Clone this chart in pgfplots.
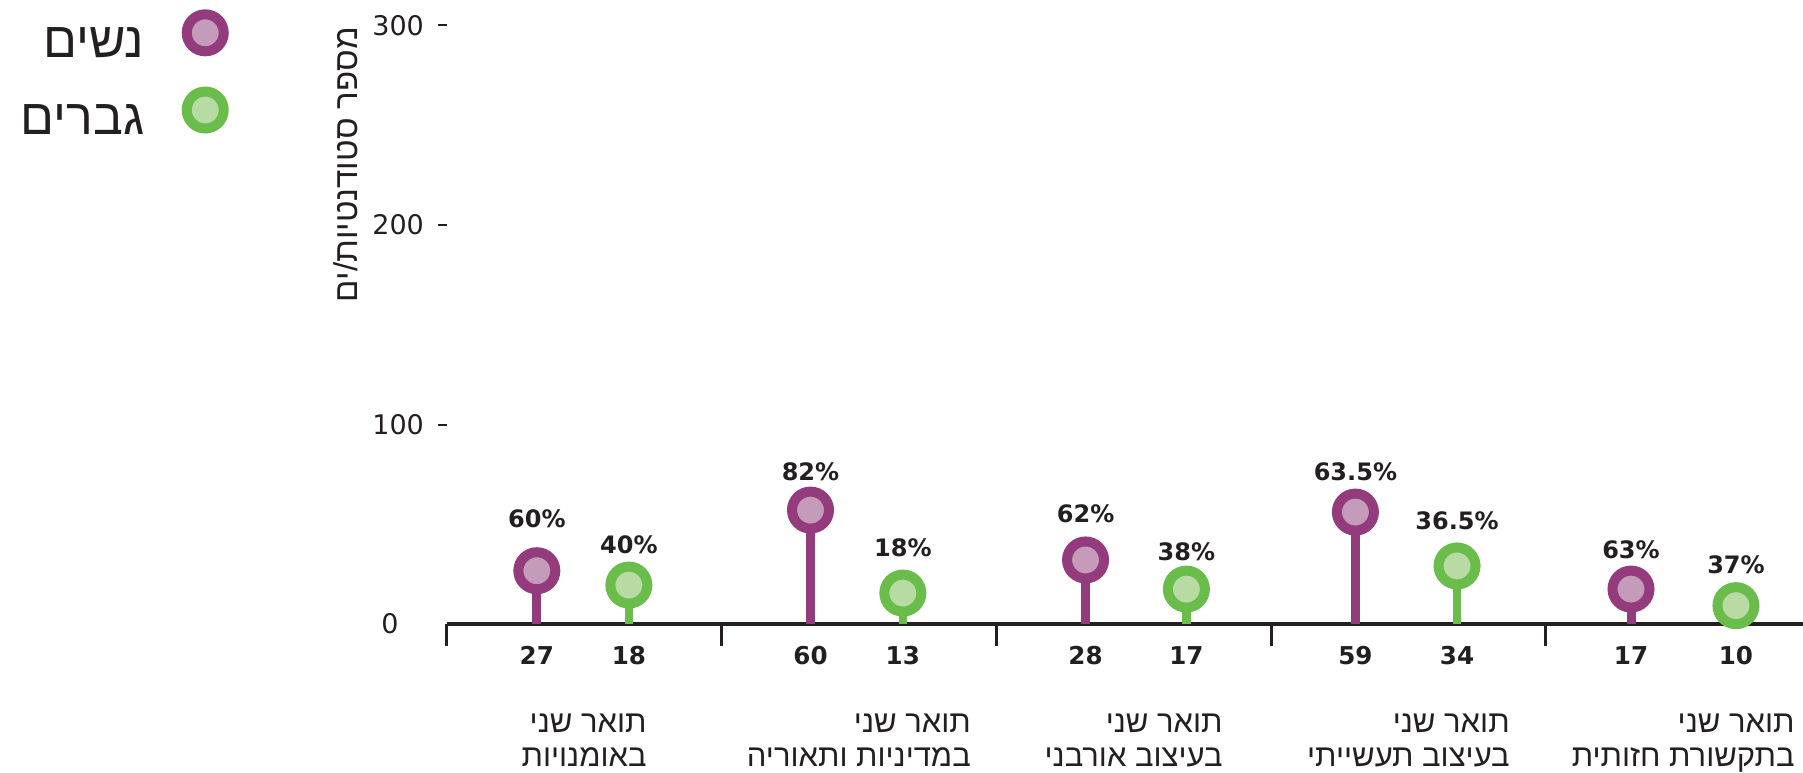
\documentclass[border=0pt]{standalone}
\usepackage{fontspec}
\usepackage{pgfplots}
\usepackage{pgfplotstable}
\pgfplotsset{compat=1.18}
\TeXXeTstate=1
\newfontfamily\hebfont[Script=Hebrew]{Liberation Sans}
\newfontfamily\numfont{DejaVu Sans}
\definecolor{purp}{HTML}{943B7D}
\definecolor{purpl}{HTML}{C49BB9}
\definecolor{grn}{HTML}{6ABD4A}
\definecolor{grnl}{HTML}{B8DBA4}
\definecolor{txt}{HTML}{231F20}

\pgfplotstableread{
x y lab dy
0.328 26.7 60 26.2
1.324 57.1 82 19.2
2.325 32.1 62 23.0
3.307 56.1 63.5 20.3
4.310 17.5 63 19.5
}\women
\pgfplotstableread{
x y lab dy
0.663 19.5 40 20.0
1.660 15.5 18 22.5
2.692 17.5 38 18.7
3.677 29.1 36.5 22.5
4.692 9.2 37 20.3
}\men

\begin{document}
\begin{tikzpicture}
\useasboundingbox (0,0) rectangle (901.5pt,386pt);
\begin{axis}[
  at={(223.35pt,74pt)}, anchor=south west,
  scale only axis, width=678.15pt, height=299.25pt,
  xmin=0, xmax=4.936, ymin=0, ymax=300,
  clip=false,
  axis lines*=left,
  x axis line style={line width=2pt, color=txt},
  y axis line style={draw=none},
  tick align=outside,
  major tick length=4.5pt,
  minor tick length=11pt,
  ytick={100,200,300},
  extra y ticks={0},
  extra y tick style={major tick length=0pt},
  ytick style={line width=1pt, color=txt},
  /pgf/number format/assume math mode=true,
  yticklabel style={font=\numfont\fontsize{13.5}{15}\selectfont, text=txt, anchor=west, inner sep=0pt, xshift=-32.85pt},
  xtick={0.328,0.663,1.324,1.660,2.325,2.692,3.307,3.677,4.310,4.692},
  xticklabels={27,18,60,13,28,17,59,34,17,10},
  every major x tick/.append style={draw=none},
  minor xtick={0,1,2,3,4},
  every minor x tick/.append style={line width=1.5pt, color=txt},
  xticklabel style={font=\numfont\bfseries\fontsize{12.3}{14}\selectfont, text=txt, anchor=center, inner sep=0pt, yshift=-11.4pt},
  extra x ticks={0.5,1.5,2.5,3.5,4.5},
  extra x tick labels={
    {\beginR תואר שני\endR\\\beginR באומנויות\endR},
    {\beginR תואר שני\endR\\\beginR במדיניות ותאוריה\endR},
    {\beginR תואר שני\endR\\\beginR בעיצוב אורבני\endR},
    {\beginR תואר שני\endR\\\beginR בעיצוב תעשייתי\endR},
    {\beginR תואר שני\endR\\\beginR בתקשורת חזותית\endR}},
  extra x tick style={major tick length=0pt, xticklabel style={anchor=north, align=right, font=\hebfont\fontsize{15.5}{17}\selectfont, yshift=-33.45pt}},
  ylabel={\beginR מספר סטודנטיות/ים\endR},
  ylabel style={font=\hebfont\fontsize{16.5}{20}\selectfont, text=txt, at={(axis description cs:-0.0742,0.9975)}, anchor=east, inner sep=0pt},
  legend style={at={(axis description cs:-0.1604,1.0277)}, anchor=north east, draw=none, fill=none, inner sep=0pt,
    row sep=13.2pt, column sep=18.75pt, font=\hebfont\fontsize{25}{28}\selectfont, text=txt, nodes={inner sep=0pt}},
  legend plot pos=right,
  legend cell align=right,
]
\addplot[ycomb, draw=purp, line width=4.5pt, mark=*, mark size=9.25pt,
  mark options={draw=purp, fill=purpl, line width=5pt},
  point meta=explicit symbolic,
  visualization depends on={\thisrow{dy} \as \labdy},
  nodes near coords={\pgfplotspointmeta\%},
  every node near coord/.append style={font=\numfont\bfseries\fontsize{12}{14}\selectfont, text=txt, anchor=center, yshift=\labdy pt},
  legend image code/.code={\draw[draw=purp, fill=purpl, line width=5pt] (11.75pt,5.4pt) circle (9.25pt);}
] table[x=x, y=y, meta=lab] {\women};
\addlegendentry{\beginR נשים\endR}
\addplot[ycomb, draw=grn, line width=4.3pt, mark=*, mark size=9.25pt,
  mark options={draw=grn, fill=grnl, line width=5pt},
  point meta=explicit symbolic,
  visualization depends on={\thisrow{dy} \as \labdy},
  nodes near coords={\pgfplotspointmeta\%},
  every node near coord/.append style={font=\numfont\bfseries\fontsize{12}{14}\selectfont, text=txt, anchor=center, yshift=\labdy pt},
  legend image code/.code={\draw[draw=grn, fill=grnl, line width=5pt] (11.75pt,5.4pt) circle (9.25pt);}
] table[x=x, y=y, meta=lab] {\men};
\addlegendentry{\beginR גברים\endR}
\end{axis}
\end{tikzpicture}
\end{document}
